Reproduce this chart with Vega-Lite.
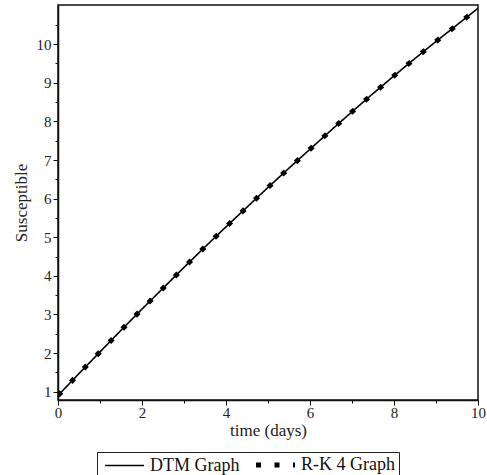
{
  "$schema": "https://vega.github.io/schema/vega-lite/v6.json",
  "width": 420,
  "height": 395,
  "autosize": {"type": "none"},
  "padding": {"left": 58, "top": 5, "right": 9, "bottom": 75},
  "background": "white",
  "config": {
    "font": "Liberation Serif",
    "view": {"stroke": "#111", "strokeWidth": 1.5},
    "legend": {"labelFont": "Liberation Serif", "titleFont": "Liberation Serif"},
    "axis": {
      "grid": false,
      "domainColor": "#111",
      "domainWidth": 1.5,
      "tickColor": "#111",
      "tickWidth": 1,
      "labelFont": "Liberation Serif",
      "titleFont": "Liberation Serif",
      "labelColor": "#222",
      "titleColor": "#222",
      "titleFontWeight": "normal",
      "labelOverlap": false,
      "labelFlush": false
    }
  },
  "data": {
    "values": [
      {"t": 0, "y": 0.9, "series": "DTM Graph"},
      {"t": 0.5, "y": 1.47, "series": "DTM Graph"},
      {"t": 1, "y": 2.03, "series": "DTM Graph"},
      {"t": 1.5, "y": 2.59, "series": "DTM Graph"},
      {"t": 2, "y": 3.14, "series": "DTM Graph"},
      {"t": 2.5, "y": 3.68, "series": "DTM Graph"},
      {"t": 3, "y": 4.22, "series": "DTM Graph"},
      {"t": 3.5, "y": 4.75, "series": "DTM Graph"},
      {"t": 4, "y": 5.27, "series": "DTM Graph"},
      {"t": 4.5, "y": 5.78, "series": "DTM Graph"},
      {"t": 5, "y": 6.29, "series": "DTM Graph"},
      {"t": 5.5, "y": 6.79, "series": "DTM Graph"},
      {"t": 6, "y": 7.28, "series": "DTM Graph"},
      {"t": 6.5, "y": 7.77, "series": "DTM Graph"},
      {"t": 7, "y": 8.25, "series": "DTM Graph"},
      {"t": 7.5, "y": 8.72, "series": "DTM Graph"},
      {"t": 8, "y": 9.18, "series": "DTM Graph"},
      {"t": 8.5, "y": 9.63, "series": "DTM Graph"},
      {"t": 9, "y": 10.07, "series": "DTM Graph"},
      {"t": 9.5, "y": 10.5, "series": "DTM Graph"},
      {"t": 10, "y": 10.93, "series": "DTM Graph"},
      {"t": 0, "y": 0.9, "series": "R-K 4 Graph"},
      {"t": 0.5, "y": 1.47, "series": "R-K 4 Graph"},
      {"t": 1, "y": 2.03, "series": "R-K 4 Graph"},
      {"t": 1.5, "y": 2.59, "series": "R-K 4 Graph"},
      {"t": 2, "y": 3.14, "series": "R-K 4 Graph"},
      {"t": 2.5, "y": 3.68, "series": "R-K 4 Graph"},
      {"t": 3, "y": 4.22, "series": "R-K 4 Graph"},
      {"t": 3.5, "y": 4.75, "series": "R-K 4 Graph"},
      {"t": 4, "y": 5.27, "series": "R-K 4 Graph"},
      {"t": 4.5, "y": 5.78, "series": "R-K 4 Graph"},
      {"t": 5, "y": 6.29, "series": "R-K 4 Graph"},
      {"t": 5.5, "y": 6.79, "series": "R-K 4 Graph"},
      {"t": 6, "y": 7.28, "series": "R-K 4 Graph"},
      {"t": 6.5, "y": 7.77, "series": "R-K 4 Graph"},
      {"t": 7, "y": 8.25, "series": "R-K 4 Graph"},
      {"t": 7.5, "y": 8.72, "series": "R-K 4 Graph"},
      {"t": 8, "y": 9.18, "series": "R-K 4 Graph"},
      {"t": 8.5, "y": 9.63, "series": "R-K 4 Graph"},
      {"t": 9, "y": 10.07, "series": "R-K 4 Graph"},
      {"t": 9.5, "y": 10.5, "series": "R-K 4 Graph"},
      {"t": 10, "y": 10.93, "series": "R-K 4 Graph"}
    ]
  },
  "mark": {"type": "line", "color": "black", "strokeCap": "butt", "clip": true},
  "encoding": {
    "x": {
      "field": "t",
      "type": "quantitative",
      "scale": {"domain": [0, 10], "nice": false, "zero": false},
      "axis": {
        "values": [0, 1, 2, 3, 4, 5, 6, 7, 8, 9, 10],
        "labelExpr": "datum.value % 2 === 0 ? format(datum.value, 'd') : ''",
        "tickSize": {"condition": {"test": "datum.value % 2 === 0", "value": 5}, "value": 3},
        "labelFontSize": 15,
        "labelPadding": 0,
        "title": "time (days)",
        "titleFontSize": 17,
        "titlePadding": 2
      }
    },
    "y": {
      "field": "y",
      "type": "quantitative",
      "scale": {"domain": [0.785, 11.015], "nice": false, "zero": false},
      "axis": {
        "values": [1, 1.5, 2, 2.5, 3, 3.5, 4, 4.5, 5, 5.5, 6, 6.5, 7, 7.5, 8, 8.5, 9, 9.5, 10, 10.5],
        "labelExpr": "datum.value % 1 === 0 ? format(datum.value, 'd') : ''",
        "tickSize": {"condition": {"test": "datum.value % 1 === 0", "value": 5}, "value": 3},
        "labelFontSize": 15,
        "labelPadding": 2,
        "title": "Susceptible",
        "titleFontSize": 17,
        "titlePadding": 6
      }
    },
    "strokeDash": {
      "field": "series",
      "type": "nominal",
      "title": null,
      "scale": {"domain": ["DTM Graph", "R-K 4 Graph"], "range": [[1, 0], [5, 13.5]]},
      "legend": {
        "title": null,
        "orient": "none",
        "legendX": 39,
        "legendY": 447,
        "direction": "horizontal",
        "strokeColor": "#222",
        "padding": 4,
        "symbolType": "M-1,0H6.8",
        "symbolSize": 100,
        "symbolStrokeColor": "black",
        "labelFont": "Liberation Serif",
        "labelFontSize": 18,
        "labelColor": "#111",
        "labelOffset": 31,
        "columnPadding": 6,
        "labelLimit": 200
      }
    },
    "strokeWidth": {
      "field": "series",
      "type": "nominal",
      "title": null,
      "scale": {"domain": ["DTM Graph", "R-K 4 Graph"], "range": [1.6, 5]}
    },
    "order": {"field": "t", "type": "quantitative"}
  }
}
